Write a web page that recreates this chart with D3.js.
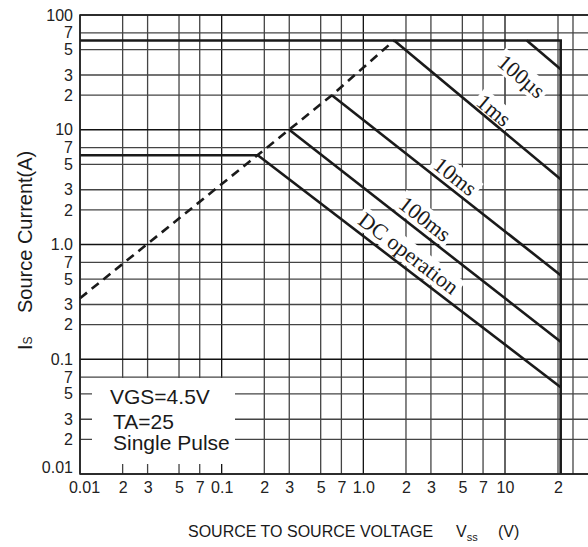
<!DOCTYPE html>
<html>
<head>
<meta charset="utf-8">
<script src="https://cdn.jsdelivr.net/npm/d3@7"></script>
<style>
  body { margin: 0; background: #fff; }
  svg { display: block; }
  .tick text { font-family: "Liberation Sans Narrow", "Arial Narrow", sans-serif; font-size: 16px; fill: #222; }
</style>
</head>
<body>
<script>
// tick values and their printed labels
const xTicks = [0.01, 0.02, 0.03, 0.05, 0.07, 0.1, 0.2, 0.3, 0.5, 0.7, 1, 2, 3, 5, 7, 10, 20, 30];
const xTickLabels = ["0.01", "2", "3", "5", "7", "0.1", "2", "3", "5", "7", "1.0", "2", "3", "5", "7", "10", "2", ""];
const yTicks = [0.01, 0.02, 0.03, 0.05, 0.07, 0.1, 0.2, 0.3, 0.5, 0.7, 1, 2, 3, 5, 7, 10, 20, 30, 50, 70, 100];
const yTickLabels = ["0.01", "2", "3", "5", "7", "0.1", "2", "3", "5", "7", "1.0", "2", "3", "5", "7", "10", "2", "3", "5", "7", "100"];
const decades = [0.01, 0.1, 1, 10, 100];

// limits (V, A)
const vssMax = 21.5;
const pulseMax = 60;
const dcMax = 6;
const rdsLimit = [[0.01, 0.34], [0.6, 20], [1.65, 60]];

// pulse width lines
const pulseNames = ["100µs", "1ms", "10ms", "100ms", "DC operation"];
const pulseStart = [[13.3, 60], [1.65, 60], [0.6, 20], [0.3, 10], [0.18, 6]];
const pulseEnd = [[21.5, 33.7], [21.5, 3.7], [21.5, 0.54], [21.5, 0.142], [21.5, 0.057]];

const notes = ["VGS=4.5V", "TA=25", "Single Pulse"];

// label placement along each pulse line (fraction, perpendicular px)
const labelT = [0.43, 0.56, 0.506, 0.47, 0.47];
const labelOff = [-31, 10, 12.3, 13.2, 13.7];

const w = 588, h = 547;
const padLeft = 80, padTop = 15, padBottom = 474;

const x = d3.scaleLog()
            .domain([0.01, 10, 20, 30, 45])
            .range([padLeft, 505, 558, 573, w]);
const y = d3.scaleLog()
            .domain([0.01, 100])
            .range([padBottom, padTop]);

const svg = d3.select("body")
              .append("svg")
              .attr("width", w)
              .attr("height", h)
              .style("background", "#fff");

// grid
svg.append("g").selectAll("line")
   .data(xTicks)
   .enter()
   .append("line")
   .attr("x1", d => x(d)).attr("x2", d => x(d))
   .attr("y1", padTop).attr("y2", padBottom)
   .attr("stroke", d => decades.includes(d) ? "#111" : "#444")
   .attr("stroke-width", 1.3);

svg.append("g").selectAll("line")
   .data(yTicks)
   .enter()
   .append("line")
   .attr("y1", d => y(d)).attr("y2", d => y(d))
   .attr("x1", padLeft).attr("x2", w)
   .attr("stroke", d => decades.includes(d) ? "#111" : "#444")
   .attr("stroke-width", 1.3);

// notes box
svg.append("rect")
   .attr("x", 92).attr("y", 378)
   .attr("width", 143).attr("height", 86)
   .attr("fill", "#fff");

svg.append("g").selectAll("text")
   .data(notes)
   .enter()
   .append("text")
   .attr("x", (d, i) => i == 0 ? 110 : 113)
   .attr("y", (d, i) => [404, 429, 450][i])
   .attr("font-family", "Liberation Sans, Arial, sans-serif")
   .attr("font-size", 21)
   .attr("fill", "#1a1a1a")
   .text(d => d);

// pulse labels with white backing
const labels = svg.append("g");
pulseNames.forEach((name, i) => {
    const p0 = [x(pulseStart[i][0]), y(pulseStart[i][1])];
    const p1 = [x(pulseEnd[i][0]), y(pulseEnd[i][1])];
    const a = Math.atan2(p1[1] - p0[1], p1[0] - p0[0]);
    const fx = p0[0] + labelT[i] * (p1[0] - p0[0]);
    const fy = p0[1] + labelT[i] * (p1[1] - p0[1]);
    const cx = fx + labelOff[i] * Math.sin(a);
    const cy = fy - labelOff[i] * Math.cos(a);
    const g = labels.append("g")
                    .attr("transform", "translate(" + cx + "," + cy + ")rotate(" + (a * 180 / Math.PI) + ")");
    const t = g.append("text")
               .attr("text-anchor", "middle")
               .attr("dy", "0.33em")
               .attr("font-family", "Liberation Serif, Times New Roman, serif")
               .attr("font-size", 22)
               .attr("fill", "#1a1a1a")
               .text(name);
    const b = t.node().getBBox();
    g.insert("rect", "text")
     .attr("x", b.x - 3).attr("y", b.y + 1)
     .attr("width", b.width + 6).attr("height", b.height - 2)
     .attr("fill", "#fff");
});

// limit lines
const line = d3.line().x(d => x(d[0])).y(d => y(d[1]));
const ink = "#1a1a1a";

svg.append("path")
   .attr("d", line([[0.01, pulseMax], [vssMax, pulseMax], [vssMax, 0.01]]))
   .attr("fill", "none").attr("stroke", ink).attr("stroke-width", 2.6);

svg.append("path")
   .attr("d", line([[0.01, dcMax], pulseStart[4]]))
   .attr("fill", "none").attr("stroke", ink).attr("stroke-width", 2.6);

svg.append("path")
   .attr("d", line(rdsLimit))
   .attr("fill", "none").attr("stroke", ink).attr("stroke-width", 2.6)
   .attr("stroke-dasharray", "9,6");

svg.append("g").selectAll("path")
   .data(pulseNames)
   .enter()
   .append("path")
   .attr("d", (d, i) => line([pulseStart[i], pulseEnd[i]]))
   .attr("fill", "none").attr("stroke", ink).attr("stroke-width", 2.6);

// frame
svg.append("path")
   .attr("d", "M" + w + "," + padTop + "H" + padLeft + "V" + padBottom + "H" + w)
   .attr("fill", "none").attr("stroke", "#222").attr("stroke-width", 1.6);

// axes
const xAxis = svg.append("g")
   .attr("transform", "translate(0," + padBottom + ")")
   .call(d3.axisBottom(x).tickValues(xTicks).tickFormat((d, i) => xTickLabels[i]).tickSize(0).tickPadding(8));
xAxis.select(".domain").remove();
xAxis.selectAll(".tick text").filter(d => d == 0.01).attr("dx", 4);

const yAxis = svg.append("g")
   .attr("transform", "translate(" + padLeft + ",0)")
   .call(d3.axisLeft(y).tickValues(yTicks).tickFormat((d, i) => yTickLabels[i]).tickSize(0).tickPadding(7));
yAxis.select(".domain").remove();
yAxis.selectAll(".tick text").filter(d => d == 0.01).attr("dy", "-0.1em");

// axis titles
const xt = svg.append("text")
   .attr("y", 537)
   .attr("font-family", "Liberation Sans, Arial, sans-serif")
   .attr("font-size", 16)
   .attr("fill", "#1a1a1a");
xt.append("tspan").attr("x", 188).text("SOURCE TO SOURCE VOLTAGE");
xt.append("tspan").attr("x", 456).text("V");
xt.append("tspan").attr("dy", 4).attr("font-size", 11).text("ss");
xt.append("tspan").attr("x", 498).attr("dy", -4).text("(V)");

const yt = svg.append("text")
   .attr("transform", "translate(32,350)rotate(-90)")
   .attr("font-family", "Liberation Sans, Arial, sans-serif")
   .attr("font-size", 20)
   .attr("fill", "#1a1a1a");
yt.append("tspan").text("I");
yt.append("tspan").attr("font-size", 12).text("S");
yt.append("tspan").attr("x", 37).text("Source Current(A)");
</script>
</body>
</html>
